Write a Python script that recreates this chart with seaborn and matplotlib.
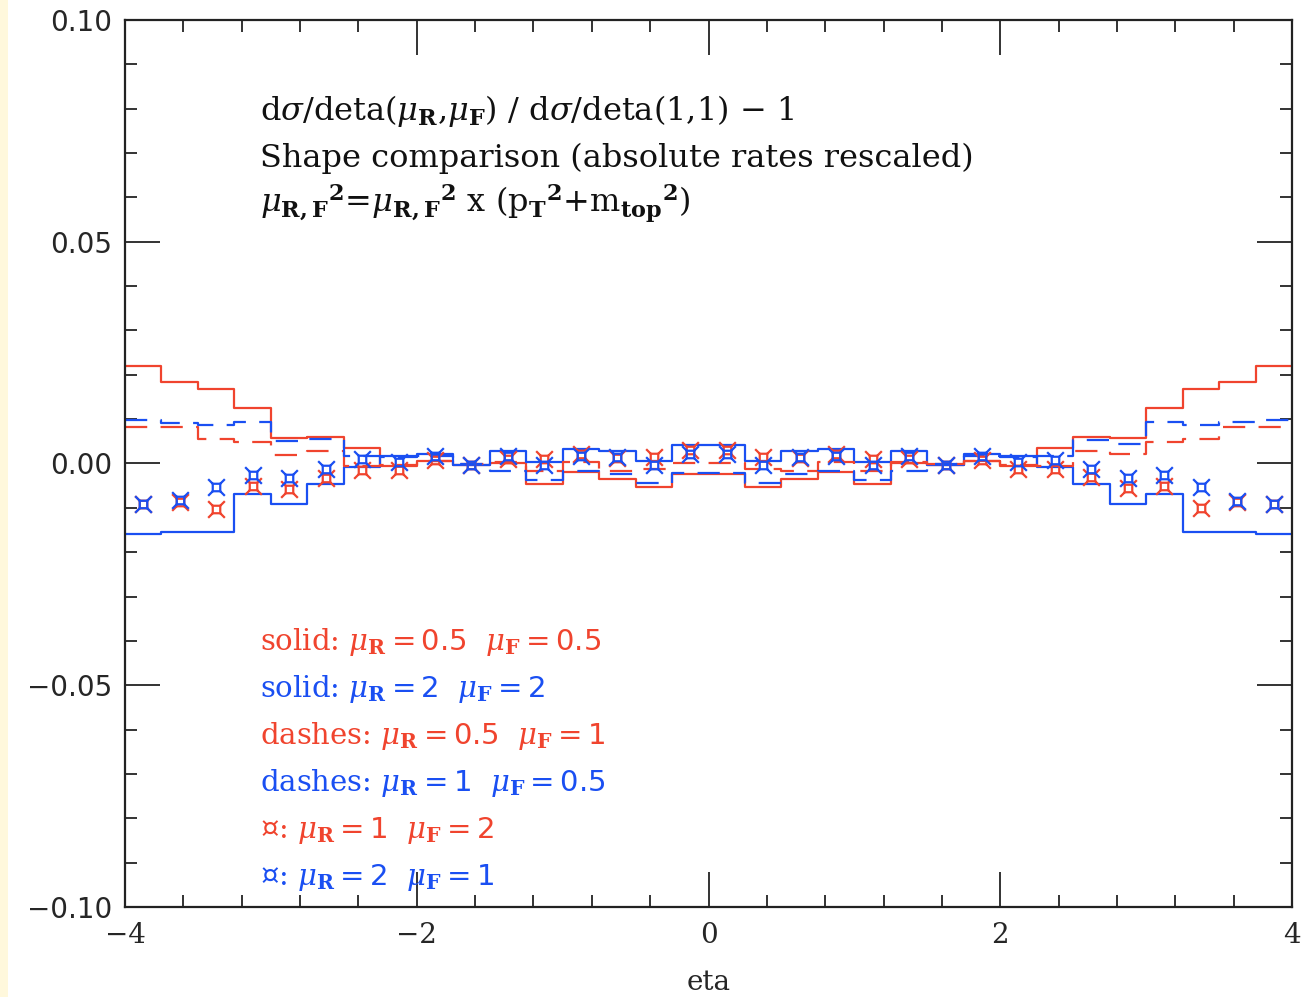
import numpy as np
import pandas as pd
import matplotlib
matplotlib.use("Agg")
import matplotlib.pyplot as plt
from matplotlib.path import Path
from matplotlib.patches import Rectangle
from matplotlib.ticker import MultipleLocator
import seaborn as sns

# ---------------- data ----------------
eta_min, eta_max, n_bins = -4.0, 4.0, 32

solid_red = [0.0219, 0.0184, 0.0167, 0.0126, 0.0057, 0.0060, 0.0034, -0.0006,
             0.0005, -0.0003, 0.0002, -0.0047, -0.0020, -0.0034, -0.0054, -0.0024,
             -0.0024, -0.0054, -0.0034, -0.0020, -0.0047, 0.0002, -0.0003, 0.0005,
             -0.0006, 0.0034, 0.0060, 0.0057, 0.0126, 0.0167, 0.0184, 0.0219]
solid_blue = [-0.0158, -0.0155, -0.0154, -0.0068, -0.0091, -0.0046, -0.0008, 0.0017,
              0.0021, -0.0003, 0.0028, 0.0003, 0.0033, 0.0028, 0.0005, 0.0042,
              0.0042, 0.0005, 0.0028, 0.0033, 0.0003, 0.0028, -0.0003, 0.0021,
              0.0017, -0.0008, -0.0046, -0.0091, -0.0068, -0.0154, -0.0155, -0.0158]
dash_red = [0.0083, 0.0082, 0.0056, 0.0048, 0.0019, 0.0028, -0.0005, -0.0004,
            0.0005, -0.0002, 0.0003, -0.0018, 0.0003, -0.0016, -0.0012, 0.0002,
            0.0002, -0.0012, -0.0016, 0.0003, -0.0018, 0.0003, -0.0002, 0.0005,
            -0.0004, -0.0005, 0.0029, 0.0022, 0.0048, 0.0056, 0.0082, 0.0083]
dash_blue = [0.0097, 0.0091, 0.0086, 0.0093, 0.0050, 0.0055, 0.0017, 0.0015,
             0.0018, -0.0002, -0.0016, -0.0038, -0.0016, -0.0024, -0.0043, -0.0021,
             -0.0021, -0.0043, -0.0024, -0.0016, -0.0038, -0.0016, -0.0002, 0.0018,
             0.0015, 0.0017, 0.0054, 0.0045, 0.0093, 0.0086, 0.0093, 0.0097]
mark_red = [-0.0091, -0.0087, -0.0102, -0.0050, -0.0057, -0.0033, -0.0014, -0.0014,
            0.0007, -0.0003, 0.0011, 0.0011, 0.0022, 0.0013, 0.0015, 0.0031,
            0.0031, 0.0015, 0.0013, 0.0022, 0.0011, 0.0011, -0.0004, 0.0007,
            -0.0013, -0.0013, -0.0031, -0.0056, -0.0050, -0.0101, -0.0086, -0.0091]
mark_blue = [-0.0091, -0.0083, -0.0053, -0.0025, -0.0032, -0.0013, 0.0010, 0.0003,
             0.0017, -0.0003, 0.0018, -0.0004, 0.0017, 0.0014, -0.0003, 0.0022,
             0.0022, -0.0003, 0.0014, 0.0017, -0.0004, 0.0018, -0.0004, 0.0016,
             0.0003, 0.0008, -0.0012, -0.0032, -0.0025, -0.0053, -0.0085, -0.0091]

header_lines = [
    r"d$\sigma$/deta($\mu_{\mathbf{R}}$,$\mu_{\mathbf{F}}$) / d$\sigma$/deta(1,1) $-$ 1",
    "Shape comparison (absolute rates rescaled)",
    r"$\mu_{\mathbf{R,F}}{}^{\mathbf{2}}$=$\mu_{\mathbf{R,F}}{}^{\mathbf{2}}$ x (p$_{\mathbf{T}}{}^{\mathbf{2}}$+m$_{\mathbf{top}}{}^{\mathbf{2}}$)",
]
legend_lines = [
    r"solid: $\mu_{\mathbf{R}}\mathsf{=0.5}$  $\mu_{\mathbf{F}}\mathsf{=0.5}$",
    r"solid: $\mu_{\mathbf{R}}\mathsf{=2}$  $\mu_{\mathbf{F}}\mathsf{=2}$",
    r"dashes: $\mu_{\mathbf{R}}\mathsf{=0.5}$  $\mu_{\mathbf{F}}\mathsf{=1}$",
    r"dashes: $\mu_{\mathbf{R}}\mathsf{=1}$  $\mu_{\mathbf{F}}\mathsf{=0.5}$",
    r"¤: $\mu_{\mathbf{R}}\mathsf{=1}$  $\mu_{\mathbf{F}}\mathsf{=2}$",
    r"¤: $\mu_{\mathbf{R}}\mathsf{=2}$  $\mu_{\mathbf{F}}\mathsf{=1}$",
]
x_ticks = [-4, -2, 0, 2, 4]
y_ticks = [-0.10, -0.05, 0.00, 0.05, 0.10]

RED = "#f0442e"
BLUE = "#1a4ff2"
legend_colors = [RED, BLUE, RED, BLUE, RED, BLUE]

# ---------------- style ----------------
sns.set_theme(style="white")
plt.rcParams["font.family"] = ["DejaVu Serif", "DejaVu Sans"]
plt.rcParams["mathtext.fontset"] = "dejavuserif"

fig = plt.figure(figsize=(13.10, 9.97), dpi=100)
fig.patch.set_facecolor("white")
fig.patches.append(Rectangle((0, 0), 8 / 1310, 1, transform=fig.transFigure,
                             facecolor="#fff8dc", edgecolor="none", zorder=0))
ax = fig.add_axes([125 / 1310, 1 - 907 / 997, 1167 / 1310, 887 / 997])
ax.set_facecolor("white")

edges = np.linspace(eta_min, eta_max, n_bins + 1)
centers = 0.5 * (edges[:-1] + edges[1:])


def step_df(vals):
    return pd.DataFrame({"x": edges, "y": list(vals) + [vals[-1]]})


DASH = (0, (10, 6))
for vals, col, ls in [(solid_red, RED, "-"), (solid_blue, BLUE, "-"),
                      (dash_red, RED, DASH), (dash_blue, BLUE, DASH)]:
    sns.lineplot(data=step_df(vals), x="x", y="y", ax=ax, color=col,
                 drawstyle="steps-post", linewidth=1.6, linestyle=ls, sort=False)

# square-with-spikes marker
s = 0.45
verts = [(-s, -s), (s, -s), (s, s), (-s, s), (-s, -s),
         (-s, -s), (-1, -1), (s, -s), (1, -1), (s, s), (1, 1), (-s, s), (-1, 1)]
codes = [Path.MOVETO, Path.LINETO, Path.LINETO, Path.LINETO, Path.CLOSEPOLY,
         Path.MOVETO, Path.LINETO, Path.MOVETO, Path.LINETO, Path.MOVETO, Path.LINETO,
         Path.MOVETO, Path.LINETO]
spike = Path(verts, codes)

for vals, col in [(mark_red, RED), (mark_blue, BLUE)]:
    sns.lineplot(data=pd.DataFrame({"x": centers, "y": vals}), x="x", y="y", ax=ax,
                 linestyle="", marker=spike, markersize=12, markerfacecolor="none",
                 markeredgecolor=col, markeredgewidth=1.6, color=col, sort=False)

ax.set_xlim(eta_min, eta_max)
ax.set_ylim(-0.10, 0.10)
ax.set_xticks(x_ticks)
ax.set_xticklabels([f"{t:d}".replace("-", "\u2212") for t in x_ticks],
                   family="DejaVu Serif", fontsize=20)
ax.set_yticks(y_ticks)
ax.set_yticklabels([f"{t:.2f}".replace("-", "\u2212") for t in y_ticks],
                   family="DejaVu Sans", fontsize=20)
ax.xaxis.set_minor_locator(MultipleLocator(0.4))
ax.yaxis.set_minor_locator(MultipleLocator(0.01))
ax.tick_params(which="both", direction="in", top=True, right=True, bottom=True,
               left=True, color="#333333", width=1.4)
ax.tick_params(which="major", length=25)
ax.tick_params(which="minor", length=8.5)
ax.tick_params(axis="y", pad=9)
ax.tick_params(axis="x", pad=11)
for sp in ax.spines.values():
    sp.set_linewidth(1.6)
    sp.set_color("#222222")
ax.set_xlabel("eta", fontsize=20, family="DejaVu Serif", labelpad=14)
ax.set_ylabel("")

hx = (260 - 125) / 1167
for txt, yb in zip(header_lines, [0.887, 0.834, 0.783]):
    ax.text(hx, yb, txt, transform=ax.transAxes, fontsize=23, color="#111111",
            va="baseline", ha="left")
for txt, col, yb in zip(legend_lines, legend_colors,
                        [0.290, 0.237, 0.184, 0.131, 0.078, 0.025]):
    ax.text(hx, yb, txt, transform=ax.transAxes, fontsize=21, color=col,
            va="baseline", ha="left")

fig.savefig("out.png", dpi=100, facecolor="white")
